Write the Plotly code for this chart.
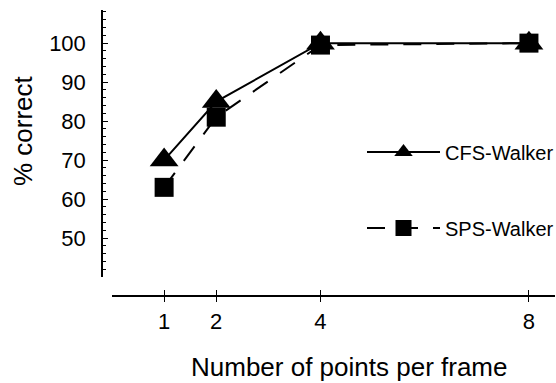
import plotly.graph_objects as go

points = [1, 2, 4, 8]
cfs = [70, 85, 100, 100]
sps = [63, 81, 99.5, 100]
x_ticks = [1, 2, 4, 8]
y_ticks = [50, 60, 70, 80, 90, 100]

FONT = "Liberation Sans, Arial, Helvetica, sans-serif"

fig = go.Figure()
fig.add_trace(go.Scatter(
    x=points, y=cfs, name="CFS-Walker", mode="lines+markers",
    line=dict(color="black", width=2),
    marker=dict(symbol="triangle-up", size=25, color="black"),
    legend="legend"))
fig.add_trace(go.Scatter(
    x=points, y=sps, name="SPS-Walker", mode="lines+markers",
    line=dict(color="black", width=2, dash="18px,15px"),
    marker=dict(symbol="square", size=19, color="black"),
    legend="legend2"))
# invisible trace to carry the overlay axis for crossing ticks
fig.add_trace(go.Scatter(x=points, y=cfs, xaxis="x2", yaxis="y",
                         mode="markers", marker=dict(opacity=0),
                         showlegend=False, hoverinfo="skip"))

W, H = 556, 383
ml, mr, mt, mb = 102, 1, 10, 87
pw = W - ml - mr
ph = H - mt - mb
xdom0 = (112 - ml) / pw
ydom0 = (H - mb - 277) / ph

common_x = dict(domain=[xdom0, 1], range=[0, 8.5], anchor="free", position=0,
                tickmode="array", tickvals=x_ticks, ticklen=5, tickwidth=1,
                tickcolor="black", showgrid=False, zeroline=False)

fig.update_layout(
    width=W, height=H,
    margin=dict(l=ml, r=mr, t=mt, b=mb, autoexpand=False),
    plot_bgcolor="white", paper_bgcolor="white",
    font=dict(family=FONT, color="black"),
    xaxis=dict(**common_x, ticks="inside", showline=True, linecolor="black",
               linewidth=2, tickfont=dict(size=22, family=FONT),
               ticktext=[str(v) for v in x_ticks], ticklabelstandoff=6),
    xaxis2=dict(**common_x, overlaying="x", ticks="outside", showline=False,
                showticklabels=False),
    yaxis=dict(domain=[ydom0, 1], range=[40, 108.5], anchor="free", position=0,
               tickmode="array", tickvals=y_ticks, ticks="inside", ticklen=5,
               tickwidth=1, tickcolor="black", showline=True, linecolor="black",
               linewidth=1.5, showgrid=False, zeroline=False,
               tickfont=dict(size=22, family=FONT), ticklabelstandoff=11,
               minor=dict(ticks="inside", dtick=2, tick0=40, ticklen=3,
                          tickcolor="black", tickwidth=1, showgrid=False)),
    legend=dict(x=(362 - ml) / pw, y=(H - mb - 152) / ph, xanchor="left",
                yanchor="middle", bgcolor="rgba(0,0,0,0)", itemwidth=73,
                font=dict(size=20, family=FONT)),
    legend2=dict(x=(362 - ml) / pw, y=(H - mb - 228) / ph, xanchor="left",
                 yanchor="middle", bgcolor="rgba(0,0,0,0)", itemwidth=73,
                 font=dict(size=20, family=FONT)),
    annotations=[
        dict(text="Number of points per frame", xref="paper", yref="paper",
             x=(349 - ml) / pw, y=(H - mb - 367) / ph, showarrow=False,
             xanchor="center", yanchor="middle", font=dict(size=26, family=FONT)),
        dict(text="% correct", xref="paper", yref="paper",
             x=(23 - ml) / pw, y=(H - mb - 131) / ph, showarrow=False,
             textangle=-90, xanchor="center", yanchor="middle",
             font=dict(size=26, family=FONT)),
    ],
)

fig.write_html("out.html", config={"displayModeBar": False},
               post_script="document.body.style.margin='0';document.body.style.padding='0';")
